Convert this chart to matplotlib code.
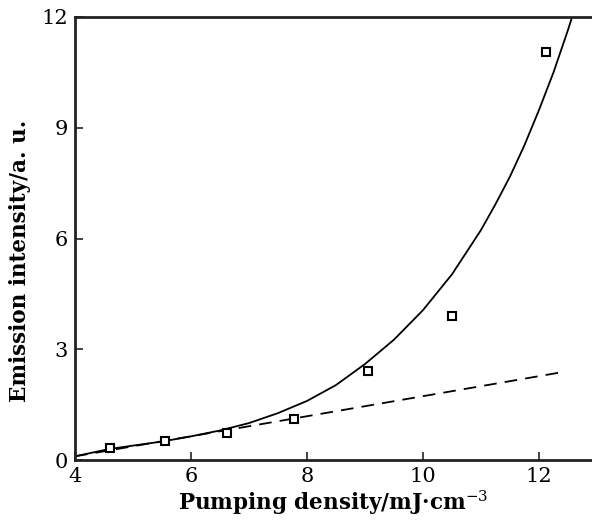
import matplotlib
matplotlib.use("Agg")
import matplotlib.pyplot as plt

plt.rcParams["mathtext.fontset"] = "dejavuserif"

# measured data points (squares)
pump_x = [4.6, 5.55, 6.62, 7.78, 9.05, 10.5, 12.12]
emis_y = [0.32, 0.52, 0.72, 1.12, 2.4, 3.9, 11.05]

# solid curve
curve_x = [4.0, 4.3, 4.6, 5.0, 5.5, 6.0, 6.5, 7.0, 7.5, 8.0, 8.5, 9.0, 9.5, 10.0,
           10.5, 11.0, 11.25, 11.5, 11.75, 12.0, 12.25, 12.5, 12.6]
curve_y = [0.10, 0.2, 0.3, 0.39, 0.5, 0.64, 0.8, 1.0, 1.27, 1.6, 2.03, 2.6, 3.26, 4.06,
           5.03, 6.23, 6.93, 7.68, 8.53, 9.48, 10.5, 11.65, 12.15]

# dashed linear fit
dash_x = [4.0, 12.4]
dash_y = [0.1, 2.38]

xticks = [4, 6, 8, 10, 12]
yticks = [0, 3, 6, 9, 12]

fig = plt.figure(figsize=(5.92, 5.27), dpi=100)
ax = fig.add_axes([75/592, 67/527, 517/592, 443/527])

ax.plot(curve_x, curve_y, color="black", lw=1.3)
ax.plot(dash_x, dash_y, color="black", lw=1.3, dashes=(7, 4.5))
ax.plot(pump_x, emis_y, linestyle="none", marker="s", markersize=6,
        markerfacecolor="white", markeredgecolor="black", markeredgewidth=1.5)

ax.set_xlim(4, 4 + 517/58)
ax.set_ylim(0, 12)
ax.set_xticks(xticks)
ax.set_yticks(yticks)
for s in ["left", "bottom", "top"]:
    ax.spines[s].set_linewidth(2)
    ax.spines[s].set_color("#222222")
ax.spines["right"].set_visible(False)

ax.tick_params(direction="in", length=6, width=1.2, color="#222222",
               labelsize=15, pad=5)
for lab in ax.get_xticklabels() + ax.get_yticklabels():
    lab.set_family("DejaVu Serif")

ax.set_xlabel("Pumping density/mJ\u00b7cm$^{-3}$", family="DejaVu Serif",
              fontweight="bold", fontsize=15.5, labelpad=2)
ax.set_ylabel("Emission intensity/a. u.", family="DejaVu Serif",
              fontweight="bold", fontsize=15.5, labelpad=6)
ax.yaxis.set_label_coords(-0.085, 0.45)

fig.savefig("out.png", dpi=100)
